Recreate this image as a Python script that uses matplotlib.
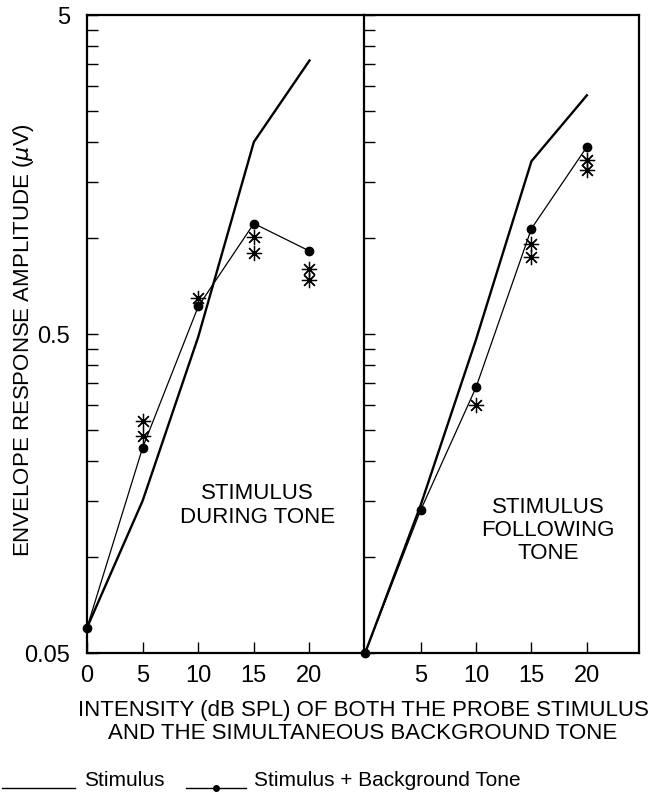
import matplotlib
matplotlib.use('Agg')
import matplotlib.pyplot as plt
from matplotlib.lines import Line2D
from matplotlib.ticker import NullFormatter

plt.rcParams['font.family'] = ['Liberation Sans', 'DejaVu Sans']

x_levels = [0, 5, 10, 15, 20]

# stimulus during tone (left panel)
during_stim = [0.060, 0.15, 0.49, 2.0, 3.6]
during_bg = [0.060, 0.22, 0.61, 1.11, 0.91]
during_star_x = [5, 5, 10, 15, 15, 20, 20]
during_star_y = [0.266, 0.24, 0.65, 1.01, 0.90, 0.80, 0.74]

# stimulus following tone (right panel)
follow_stim = [0.05, 0.145, 0.48, 1.74, 2.8]
follow_bg = [0.05, 0.14, 0.34, 1.07, 1.93]
follow_star_x = [10, 15, 15, 20, 20]
follow_star_y = [0.30, 0.96, 0.87, 1.75, 1.63]

minor_y = [0.1, 0.15, 0.2, 0.25, 0.3, 0.35, 0.4, 0.45,
           1, 1.5, 2, 2.5, 3, 3.5, 4, 4.5]

W, H = 655, 804
fig = plt.figure(figsize=(W / 100, H / 100), dpi=100)
ax1 = fig.add_axes([87 / W, 1 - 654 / H, (364 - 87) / W, (654 - 16) / H])
ax2 = fig.add_axes([364 / W, 1 - 654 / H, (639 - 364) / W, (654 - 16) / H])

star = (8, 2, 0)
for ax, stim, bg, sx, sy in [(ax1, during_stim, during_bg, during_star_x, during_star_y),
                             (ax2, follow_stim, follow_bg, follow_star_x, follow_star_y)]:
    ax.plot(x_levels, stim, color='black', lw=1.7, clip_on=False)
    ax.plot(x_levels, bg, color='black', lw=0.9, marker='o', ms=6, clip_on=False)
    ax.plot(sx, sy, ls='none', marker=star, ms=11, mew=0.9, color='black')
    ax.set_yscale('log')
    ax.set_ylim(0.05, 5)
    ax.set_yticks(minor_y, minor=True)
    ax.yaxis.set_minor_formatter(NullFormatter())
    ax.tick_params(axis='both', which='both', direction='in', length=8, width=1,
                   labelsize=17, pad=8)
    ax.tick_params(axis='y', pad=12)
    for s in ax.spines.values():
        s.set_linewidth(1.6)

ax1.set_xlim(0, 24.9)
ax2.set_xlim(-0.1, 24.7)
ax1.spines['right'].set_visible(False)

ax1.set_xticks(x_levels)
ax1.set_xticklabels(['0', '5', '10', '15', '20'])
ax2.set_xticks(x_levels[1:])
ax2.set_xticklabels(['5', '10', '15', '20'])

ax1.set_yticks([0.05, 0.5, 5])
ax1.set_yticklabels(['0.05', '0.5', '5'])
ax2.set_yticks([0.05, 0.5, 5])
ax2.set_yticklabels([])

ax1.text(15.3, 0.146, 'STIMULUS\nDURING TONE', ha='center', va='center',
         fontsize=16, linespacing=1.2)
ax2.text(16.5, 0.122, 'STIMULUS\nFOLLOWING\nTONE', ha='center', va='center',
         fontsize=16, linespacing=1.15)

fig.text(24 / W, 1 - 340 / H, r'ENVELOPE RESPONSE AMPLITUDE ($\mu$V)',
         rotation=90, ha='center', va='center', fontsize=16)

fig.text(363 / W, 1 - 722 / H,
         'INTENSITY (dB SPL) OF BOTH THE PROBE STIMULUS\nAND THE SIMULTANEOUS BACKGROUND TONE',
         ha='center', va='center', fontsize=16, linespacing=1.08)

# legend drawn below the panels
fig.add_artist(Line2D([2 / W, 75 / W], [1 - 789 / H, 1 - 789 / H], color='black', lw=1))
fig.text(84 / W, 1 - 781 / H, 'Stimulus', ha='left', va='center', fontsize=15)
fig.add_artist(Line2D([186 / W, 246 / W], [1 - 789 / H, 1 - 789 / H], color='black', lw=1))
fig.add_artist(Line2D([216 / W], [1 - 789 / H], color='black', marker='o', ms=4, ls='none'))
fig.text(254 / W, 1 - 781 / H, 'Stimulus + Background Tone', ha='left', va='center',
         fontsize=15)

fig.savefig('out.png', dpi=100)
